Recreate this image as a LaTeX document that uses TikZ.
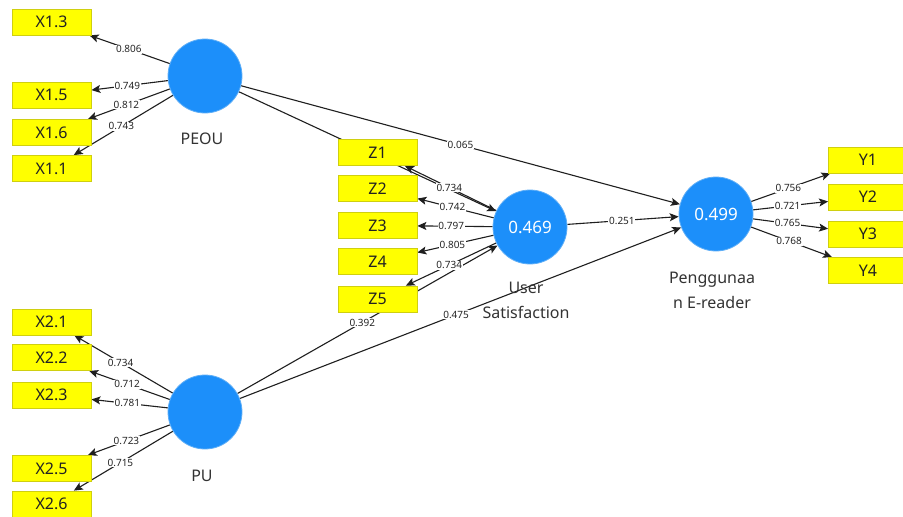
\documentclass[tikz,border=0pt]{standalone}
\usepackage{fontspec}
\setmainfont{Noto Sans}
\usetikzlibrary{arrows.meta,backgrounds}
\definecolor{lvblue}{HTML}{1C8FFA}
\definecolor{lvedge}{HTML}{5EAEF7}
\definecolor{indyellow}{HTML}{FFFF00}
\definecolor{indborder}{HTML}{CFCF10}
\definecolor{boxtext}{HTML}{222222}
\definecolor{labtext}{HTML}{333333}
\begin{document}
\begin{tikzpicture}[x=1pt,y=-1pt,
  ind/.style={rectangle, fill=indyellow, draw=indborder, line width=0.8pt,
    minimum width=79pt, minimum height=26pt, inner sep=0pt,
    font=\fontsize{16}{18}\selectfont, text=boxtext},
  lvar/.style={circle, fill=lvblue, draw=lvedge, line width=0.8pt,
    minimum size=74pt, inner sep=0pt,
    font=\fontsize{17}{20}\selectfont, text=white},
  lvlab/.style={align=center, anchor=north, inner sep=0pt,
    font=\fontsize{16}{25}\selectfont, text=labtext},
  conn/.style={draw=black!88, line width=1.1pt, -{Stealth[length=9pt,width=8pt,inset=2pt]}},
  coef/.style={fill=white, inner sep=0.8pt, font=\fontsize{10}{11}\selectfont, text=black!85},
]
\useasboundingbox (0,0) rectangle (903,517);

% latent variables
\node[lvar] (peou) at (205,76) {};
\node[lvar] (pu) at (205,412) {};
\node[lvar] (us) at (530,227) {0.469};
\node[lvar] (pe) at (716,214) {0.499};

\node[lvlab] (peoulab) at (202,133) {PEOU};
\node[lvlab] (pulab) at (202,470) {PU};
\node[lvlab] (uslab) at (526,282) {User\\Satisfaction};
\node[lvlab] (pelab) at (712,272) {Penggunaa\\n E-reader};

% indicators
\node[ind] (x13) at (51.5,22) {X1.3};
\node[ind] (x15) at (51.5,95) {X1.5};
\node[ind] (x16) at (51.5,132.5) {X1.6};
\node[ind] (x11) at (51.5,168.5) {X1.1};

\node[ind] (x21) at (51.5,322) {X2.1};
\node[ind] (x22) at (51.5,357.5) {X2.2};
\node[ind] (x23) at (51.5,395) {X2.3};
\node[ind] (x25) at (51.5,468.5) {X2.5};
\node[ind] (x26) at (51.5,504) {X2.6};

\node[ind] (z1) at (377.5,152.5) {Z1};
\node[ind] (z2) at (377.5,188.5) {Z2};
\node[ind] (z3) at (377.5,225.5) {Z3};
\node[ind] (z4) at (377.5,261.5) {Z4};
\node[ind] (z5) at (377.5,299) {Z5};

\node[ind] (y1) at (868,160) {Y1};
\node[ind] (y2) at (868,197) {Y2};
\node[ind] (y3) at (868,234) {Y3};
\node[ind] (y4) at (868,270.5) {Y4};

\begin{scope}[on background layer]
\fill[white] (0,0) rectangle (903,517);
% structural paths
\draw[conn] (peou) -- (us);
\draw[conn] (pu) -- node[coef,pos=0.48]{0.392} (us);
\draw[conn] (peou) -- node[coef,pos=0.5]{0.065} (pe);
\draw[conn] (us) -- node[coef,pos=0.49]{0.251} (pe);
\draw[conn] (pu) -- node[coef,pos=0.49]{0.475} (pe);
% PEOU loadings
\draw[conn] (peou) -- node[coef,pos=0.51]{0.806} (x13);
\draw[conn] (peou) -- node[coef,pos=0.53]{0.749} (x15);
\draw[conn] (peou) -- node[coef,pos=0.53]{0.812} (x16);
\draw[conn] (peou) -- node[coef,pos=0.52]{0.743} (x11);
% PU loadings
\draw[conn] (pu) -- node[coef,pos=0.53]{0.734} (x21);
\draw[conn] (pu) -- node[coef,pos=0.53]{0.712} (x22);
\draw[conn] (pu) -- node[coef,pos=0.53]{0.781} (x23);
\draw[conn] (pu) -- node[coef,pos=0.53]{0.723} (x25);
\draw[conn] (pu) -- node[coef,pos=0.53]{0.715} (x26);
% US loadings
\draw[conn] (us) -- node[coef,pos=0.515]{0.734} (z1);
\draw[conn] (us) -- node[coef,pos=0.54]{0.742} (z2);
\draw[conn] (us) -- node[coef,pos=0.55]{0.797} (z3);
\draw[conn] (us) -- node[coef,pos=0.54]{0.805} (z4);
\draw[conn] (us) -- node[coef,pos=0.52]{0.734} (z5);
% Penggunaan loadings
\draw[conn] (pe) -- node[coef,pos=0.47]{0.756} (y1);
\draw[conn] (pe) -- node[coef,pos=0.46]{0.721} (y2);
\draw[conn] (pe) -- node[coef,pos=0.46]{0.765} (y3);
\draw[conn] (pe) -- node[coef,pos=0.47]{0.768} (y4);
\end{scope}
\end{tikzpicture}
\end{document}
